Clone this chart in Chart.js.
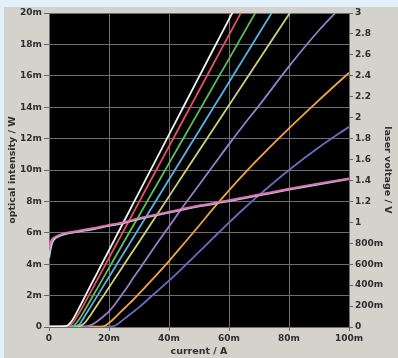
<!DOCTYPE html>
<html>
<head>
<meta charset="utf-8">
<script src="https://cdn.jsdelivr.net/npm/chart.js@4"></script>
<style>
html, body { margin: 0; padding: 0; background: #e2f1f9; }
#wrap { width: 398px; height: 358px; }
</style>
</head>
<body>
<div id="wrap"><canvas id="chart" width="398" height="358"></canvas></div>
<script>
// current in mA, optical intensity in mW, voltage in V
var current = [0, 4, 6, 8, 10, 12, 14, 16, 18, 20, 22, 24, 26, 28, 30, 35, 40, 45, 50, 55, 60, 65, 70, 80, 90, 100];

var white     = [0.02, 0.03, 0.08, 0.5, 1.2, 1.95, 2.69, 3.42, 4.16, 4.89, 5.63, 6.37, 7.1, 7.84, 8.57, 10.41, 12.25, 14.09, 15.93, 17.77, 19.6, 21.44, null, null, null, null];
var red       = [0.02, 0.03, 0.05, 0.28, 0.88, 1.56, 2.27, 2.98, 3.69, 4.4, 5.11, 5.82, 6.53, 7.24, 7.95, 9.73, 11.5, 13.28, 15.05, 16.83, 18.6, 20.38, null, null, null, null];
var green     = [0.02, 0.03, 0.04, 0.08, 0.48, 1.1, 1.77, 2.43, 3.1, 3.76, 4.43, 5.1, 5.76, 6.43, 7.09, 8.76, 10.42, 12.09, 13.75, 15.42, 17.08, 18.75, 20.42, null, null, null];
var lightBlue = [0.02, 0.03, 0.03, 0.05, 0.15, 0.72, 1.33, 1.95, 2.57, 3.19, 3.81, 4.43, 5.05, 5.67, 6.29, 7.84, 9.39, 10.94, 12.49, 14.04, 15.59, 17.14, 18.69, 21.8, null, null];
var yellow    = [0.02, 0.02, 0.03, 0.03, 0.05, 0.28, 0.8, 1.38, 1.95, 2.52, 3.1, 3.68, 4.26, 4.84, 5.42, 6.87, 8.32, 9.77, 11.22, 12.67, 14.12, 15.57, 17.02, 19.92, 22.8, null];
var purple    = [0.02, 0.02, 0.02, 0.02, 0.02, 0.03, 0.12, 0.35, 0.65, 1.0, 1.45, 1.98, 2.52, 3.1, 3.65, 5.05, 6.4, 7.75, 9.05, 10.35, 11.65, 12.9, 14.1, 16.6, 18.9, 20.9];
var orange    = [0.02, 0.02, 0.02, 0.02, 0.02, 0.02, 0.02, 0.02, 0.04, 0.25, 0.6, 0.98, 1.35, 1.72, 2.12, 3.15, 4.2, 5.32, 6.45, 7.6, 8.7, 9.75, 10.75, 12.65, 14.45, 16.2];
var darkBlue  = [0.02, 0.02, 0.02, 0.02, 0.02, 0.02, 0.02, 0.02, 0.02, 0.03, 0.08, 0.35, 0.65, 0.95, 1.25, 2.1, 2.95, 3.85, 4.78, 5.72, 6.65, 7.55, 8.4, 10.0, 11.45, 12.75];

var vCurrent  = [0, 0.5, 1, 2, 4, 6, 8, 10, 15, 20, 25, 30, 40, 50, 60, 70, 80, 90, 100];
var voltage   = [0.73, 0.8, 0.835, 0.86, 0.885, 0.9, 0.91, 0.92, 0.945, 0.975, 1.0, 1.04, 1.1, 1.16, 1.21, 1.265, 1.32, 1.37, 1.42];
var voltage2  = [0.66, 0.74, 0.8, 0.845, 0.875, 0.893, 0.903, 0.913, 0.937, 0.967, 0.993, 1.032, 1.093, 1.153, 1.203, 1.258, 1.313, 1.364, 1.414];

var textColour = '#2e2e2e';
var gridColour = '#6e6e6e';
var tickFont = {family: '"DejaVu Sans"', size: 9, weight: 'bold'};
var titleFont = {family: '"DejaVu Sans"', size: 9.5, weight: 'bold'};

function points(xs, ys){
  return xs.map(function(x, i){ return {x: x, y: ys[i]}; });
}

function milli(v){
  var r = Math.round(v * 1000) / 1000;
  return r === 0 ? '0' : r + 'm';
}

function volts(v){
  var r = Math.round(v * 1000);
  if (r === 0) return '0';
  if (r < 1000) return r + 'm';
  return String(r / 1000);
}

function curve(data, colour, axis, width){
  return {
    data: data,
    borderColor: colour,
    borderWidth: width || 1.8,
    pointRadius: 0,
    fill: false,
    cubicInterpolationMode: 'monotone',
    spanGaps: false,
    yAxisID: axis || 'y'
  };
}

var backdrop = {
  id: 'backdrop',
  beforeDraw: function(chart){
    var ctx = chart.ctx, a = chart.chartArea;
    ctx.save();
    ctx.fillStyle = '#e2f1f9';
    ctx.fillRect(0, 0, chart.width, chart.height);
    ctx.fillStyle = '#d5d2cc';
    ctx.fillRect(4, 7, chart.width - 4, chart.height - 7);
    ctx.fillStyle = '#000';
    ctx.fillRect(a.left, a.top, a.right - a.left, a.bottom - a.top);
    ctx.restore();
  }
};

new Chart(document.getElementById('chart'), {
  type: 'line',
  data: {
    datasets: [
      curve(points(vCurrent, voltage), '#e070b4', 'y2', 2),
      curve(points(vCurrent, voltage2), '#b4d6dc', 'y2', 2),
      curve(points(current, white), '#f2f2f2'),
      curve(points(current, red), '#e2505e'),
      curve(points(current, green), '#5cbf5a'),
      curve(points(current, lightBlue), '#58b2e4'),
      curve(points(current, yellow), '#cdd27a'),
      curve(points(current, purple), '#9b7ccb'),
      curve(points(current, orange), '#f0a444'),
      curve(points(current, darkBlue), '#6a6cc4')
    ]
  },
  options: {
    responsive: false,
    animation: false,
    devicePixelRatio: 1,
    layout: {padding: {left: 0, right: 0, top: 13, bottom: 0}},
    plugins: {legend: {display: false}, tooltip: {enabled: false}},
    scales: {
      x: {
        type: 'linear', min: 0, max: 100,
        ticks: {stepSize: 20, color: textColour, font: tickFont, padding: 2, maxRotation: 0, callback: milli},
        grid: {color: gridColour, tickColor: '#666', tickLength: 4},
        border: {color: gridColour},
        title: {display: true, text: 'current / A', color: textColour, font: titleFont, padding: {top: 0, bottom: 1}},
        afterFit: function(s){ s.height = 31; }
      },
      y: {
        position: 'left', min: 0, max: 20,
        ticks: {stepSize: 2, color: textColour, font: tickFont, padding: 2, callback: milli},
        grid: {color: gridColour, tickColor: '#666', tickLength: 5},
        border: {color: gridColour},
        title: {display: true, text: 'optical intensity / W', color: textColour, font: titleFont, padding: {top: 7, bottom: 0}},
        afterFit: function(s){ s.width = 49; }
      },
      y2: {
        position: 'right', min: 0, max: 3,
        ticks: {stepSize: 0.2, color: textColour, font: tickFont, padding: 2, callback: volts},
        grid: {drawOnChartArea: false, tickColor: '#666', tickLength: 4},
        border: {color: gridColour},
        title: {display: true, text: 'laser voltage / V', color: textColour, font: titleFont, padding: {top: 5, bottom: 0}},
        afterFit: function(s){ s.width = 49; }
      }
    }
  },
  plugins: [backdrop]
});
</script>
</body>
</html>
